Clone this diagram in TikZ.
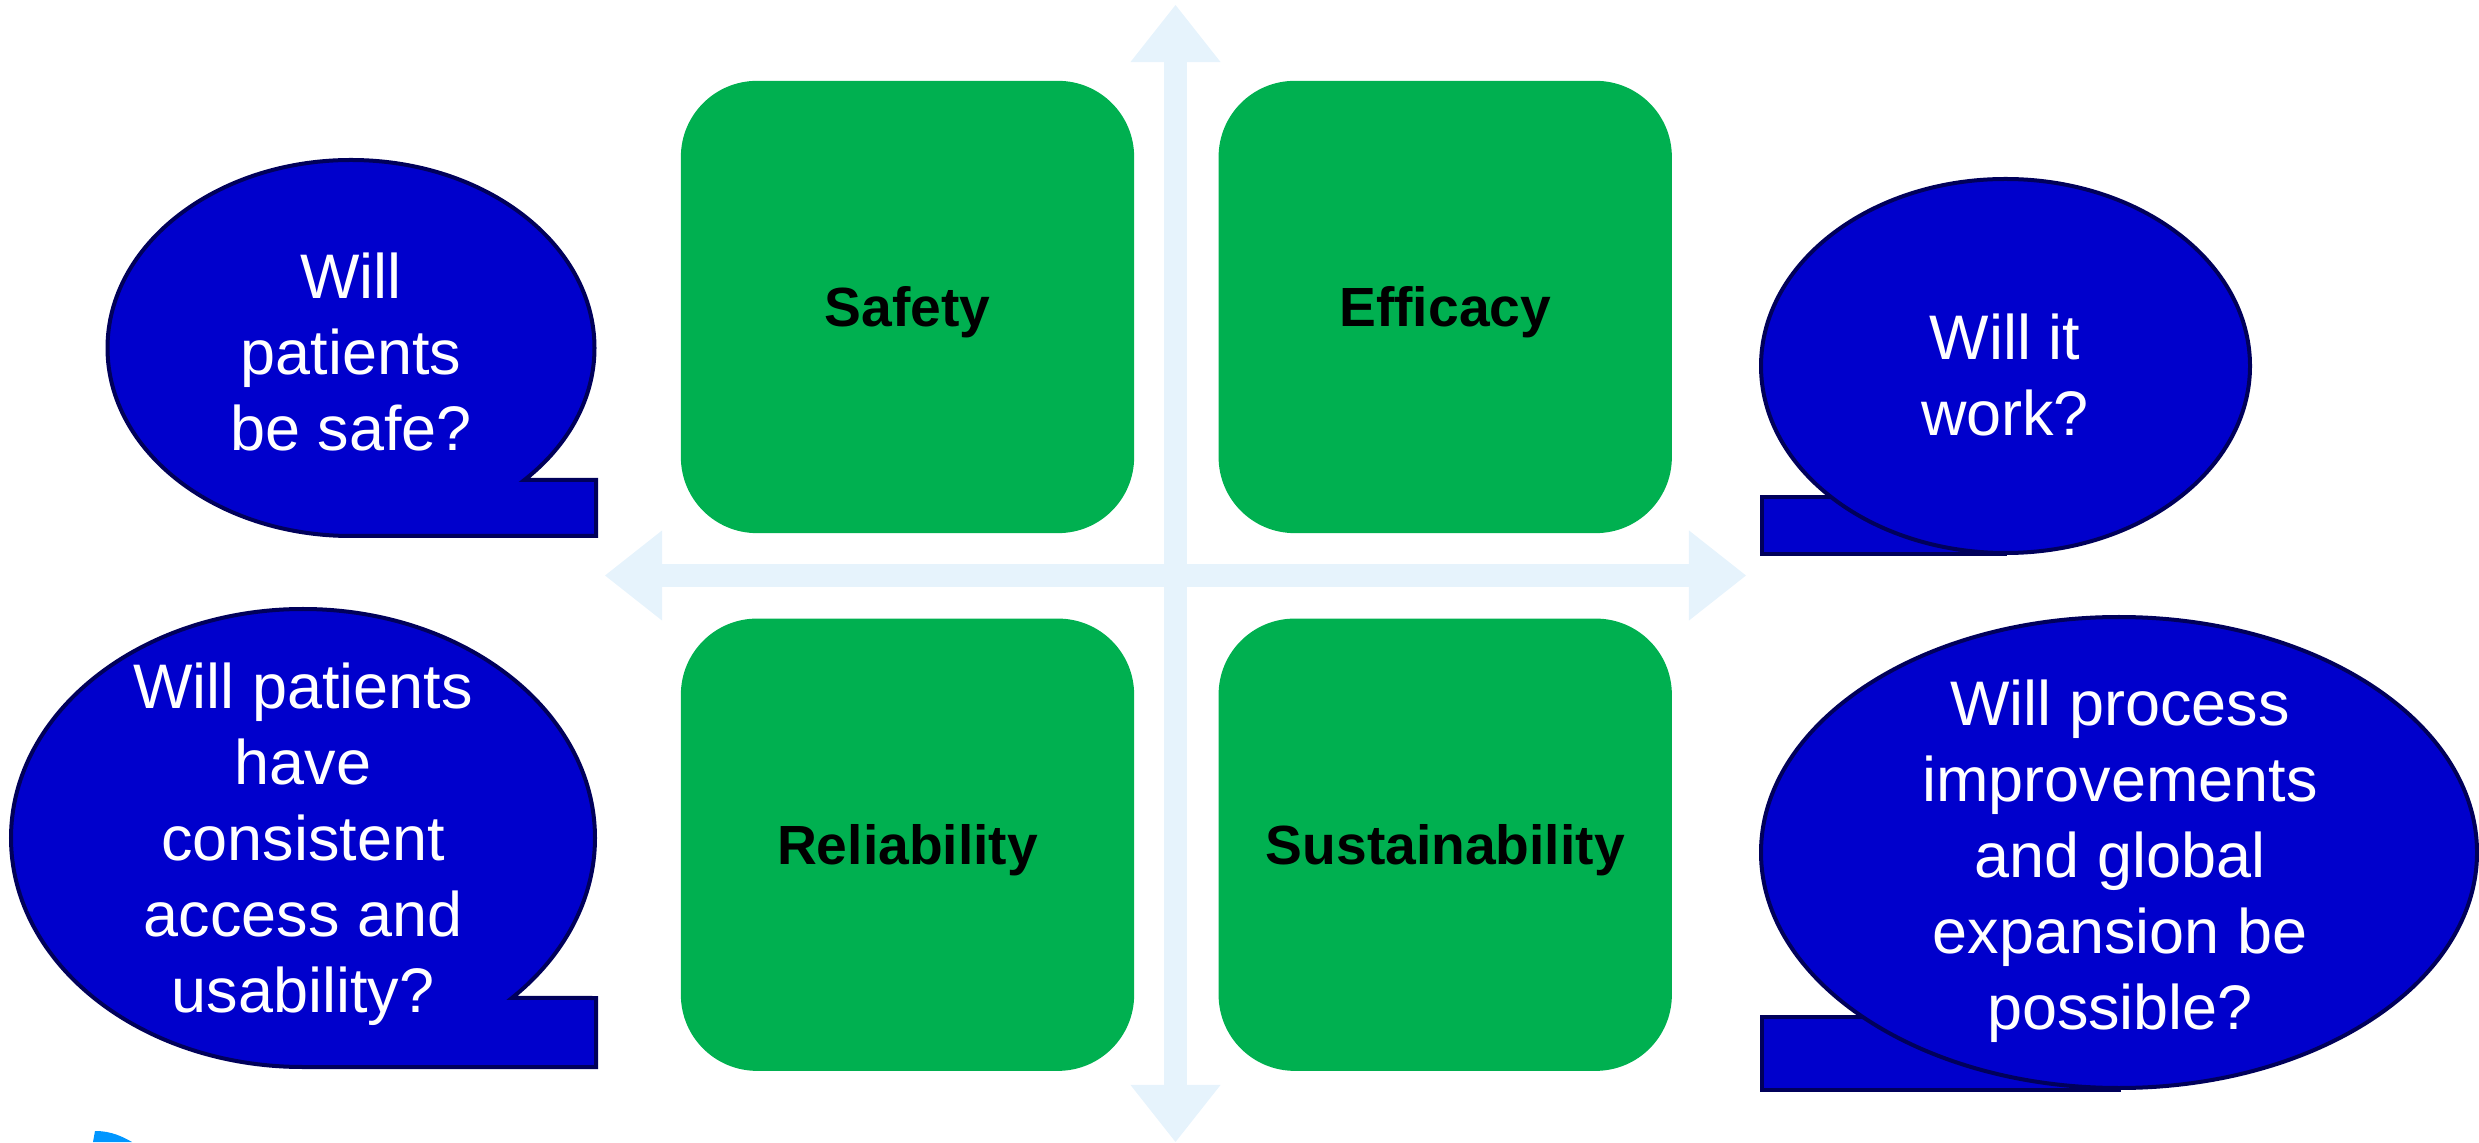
\documentclass[tikz,border=0pt]{standalone}
\usepackage{fontspec}
\setmainfont{Liberation Sans}
\usetikzlibrary{positioning}
\usetikzlibrary{arrows.meta}

\definecolor{boxgreen}{RGB}{0,176,80}
\definecolor{bubbleblue}{RGB}{0,0,204}
\definecolor{bubbleline}{RGB}{0,0,90}
\definecolor{crossblue}{RGB}{230,243,252}
\definecolor{cornerblue}{RGB}{0,150,255}

\begin{document}
\begin{tikzpicture}[x=0.01cm,y=0.01cm,
   quad/.style={fill=boxgreen, rounded corners=0.76cm, minimum width=4.53cm, minimum height=4.52cm,
      text depth=0pt, font=\bfseries\fontsize{15.7}{19}\selectfont},
   bubble/.style={fill=bubbleblue, draw=bubbleline, line width=0.04cm},
   question/.style={text=white, align=center, font=\fontsize{17.9}{21.6}\selectfont},
   crossarrow/.style={draw=crossblue, line width=0.23cm, <->,
      >={Triangle[width=0.9cm,length=0.57cm,line width=0pt]}}]
   \useasboundingbox (0,0) rectangle (2479,1142);
   %
   \coordinate (west) at (605,566.5);
   \coordinate (east) at (1746,566.5);
   \coordinate (north) at (1175.5,1137);
   \coordinate (south) at (1175.5,0);
   \draw[crossarrow] (west) -- (east);
   \draw[crossarrow] (south) -- (north);
   %
   \node[quad] (safety) at (907.5,835) {Safety};
   \node[quad, right=0.83cm of safety] (efficacy) {Efficacy};
   \node[quad, below=0.84cm of safety] (reliability) {Reliability};
   \node[quad, right=0.83cm of reliability] (sustainability) {Sustainability};
   %
   \draw[bubble] (351,606) arc[start angle=270, end angle=-44.6, x radius=243.5, y radius=188]
      -- (596,662) -- (596,606) -- cycle;
   \draw[bubble] (303,75) arc[start angle=270, end angle=-44.3, x radius=292, y radius=229]
      -- (596,144) -- (596,75) -- cycle;
   \draw[bubble] (1762,588) rectangle (2005,645);
   \draw[bubble] (2005.5,776) ellipse[x radius=244.5, y radius=187];
   \draw[bubble] (1762,52) rectangle (2119,125);
   \draw[bubble] (2119,289.5) ellipse[x radius=358, y radius=235.5];
   %
   \node[question] (safeq) at (351,790) {Will\\patients\\be safe?};
   \node[question] (workq) at (2005,767) {Will it\\work?};
   \node[question] (accessq) at (303,298) {Will patients\\have\\consistent\\access and\\usability?};
   \node[question] (possibleq) at (2120,281) {Will process\\improvements\\and global\\expansion be\\possible?};
   %
   \fill[cornerblue] (95,11) .. controls (112,11) and (123,5) .. (132,0) -- (93,0) -- cycle;
   %
\end{tikzpicture}
\end{document}
